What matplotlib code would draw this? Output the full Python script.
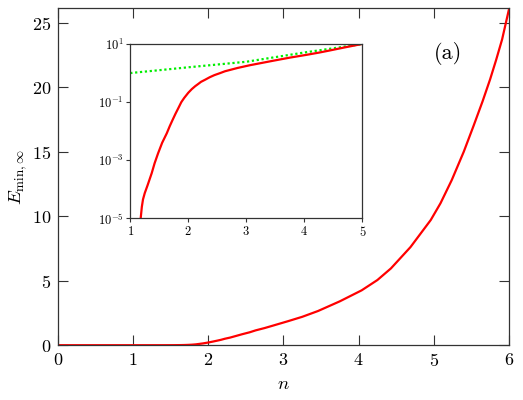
import numpy as np
import matplotlib
matplotlib.use('Agg')
from matplotlib import pyplot as plt

plt.rcParams['font.family'] = 'serif'
plt.rcParams['font.serif'] = ['cmr10']
plt.rcParams['mathtext.fontset'] = 'cm'
plt.rcParams['axes.formatter.use_mathtext'] = True

# main curve (inset gives the small values)
n = [0, 1.0, 1.18, 1.20, 1.22, 1.25, 1.30, 1.37, 1.42, 1.48, 1.55, 1.63, 1.68,
     1.73, 1.78, 1.83, 1.88, 1.93, 2.0, 2.06, 2.12, 2.17, 2.22, 2.29, 2.37,
     2.45, 2.55, 2.63, 2.75, 2.85, 3.06, 3.25, 3.46, 3.75, 4.04, 4.25, 4.43,
     4.69, 4.96, 5.09, 5.24, 5.4, 5.53, 5.65, 5.75, 5.83, 5.91, 6.0]
E = [0, 0, 1e-5, 2.5e-5, 4.5e-5, 7.4e-5, 1.4e-4, 3.6e-4, 7.9e-4, 1.74e-3,
     4.0e-3, 8.5e-3, 0.0148, 0.0245, 0.040, 0.063, 0.10, 0.14, 0.21, 0.28,
     0.355, 0.42, 0.50, 0.59, 0.72, 0.85, 1.0, 1.15, 1.33, 1.5, 1.86, 2.2,
     2.65, 3.4, 4.25, 5.05, 5.95, 7.6, 9.7, 11.0, 12.8, 15.0, 17.0, 18.9,
     20.6, 22.1, 23.7, 26.0]

# green dotted reference in the inset
n_ref = [1, 2, 3, 4, 5]
E_ref = [1.0, 1.58, 2.45, 5.1, 10.0]

red = '#ff0000'
green = '#00ee00'
spine = '#333333'

fig = plt.figure(figsize=(5.23, 4.0), dpi=100)
ax = fig.add_axes([0.111, 0.137, 0.862, 0.842])
ax.plot(n, E, color=red, lw=1.6)
ax.set_xlim(0, 6)
ax.set_ylim(0, 26.1)
ax.set_xticks(range(0, 7))
ax.set_yticks([0, 5, 10, 15, 20, 25])
ax.tick_params(direction='in', top=True, right=True, length=7, width=0.8,
               labelsize=13, pad=5, color=spine)
ax.set_xlabel('$n$', fontsize=13.5)
ax.set_ylabel(r'$E_{\min,\infty}$', fontsize=13.5, labelpad=2)
for s in ax.spines.values():
    s.set_color(spine)
    s.set_linewidth(0.9)
ax.text(0.864, 0.865, '(a)', transform=ax.transAxes, fontsize=16,
        ha='center', va='center')

ins = fig.add_axes([0.249, 0.454, 0.444, 0.436])
ins.plot(n_ref, E_ref, color=green, lw=1.6, linestyle=(0, (1, 1.2)))
ins.plot(n, E, color=red, lw=1.6)
ins.set_yscale('log')
ins.set_xlim(1, 5)
ins.set_ylim(1e-5, 1e1)
ins.set_xticks([1, 2, 3, 4, 5])
ins.set_yticks([1e-5, 1e-3, 1e-1, 1e1])
ins.minorticks_off()
ins.tick_params(direction='out', length=3, width=0.8, labelsize=9, pad=2,
                color=spine)
for s in ins.spines.values():
    s.set_color(spine)
    s.set_linewidth(0.9)

plt.savefig('out.png', dpi=100)
